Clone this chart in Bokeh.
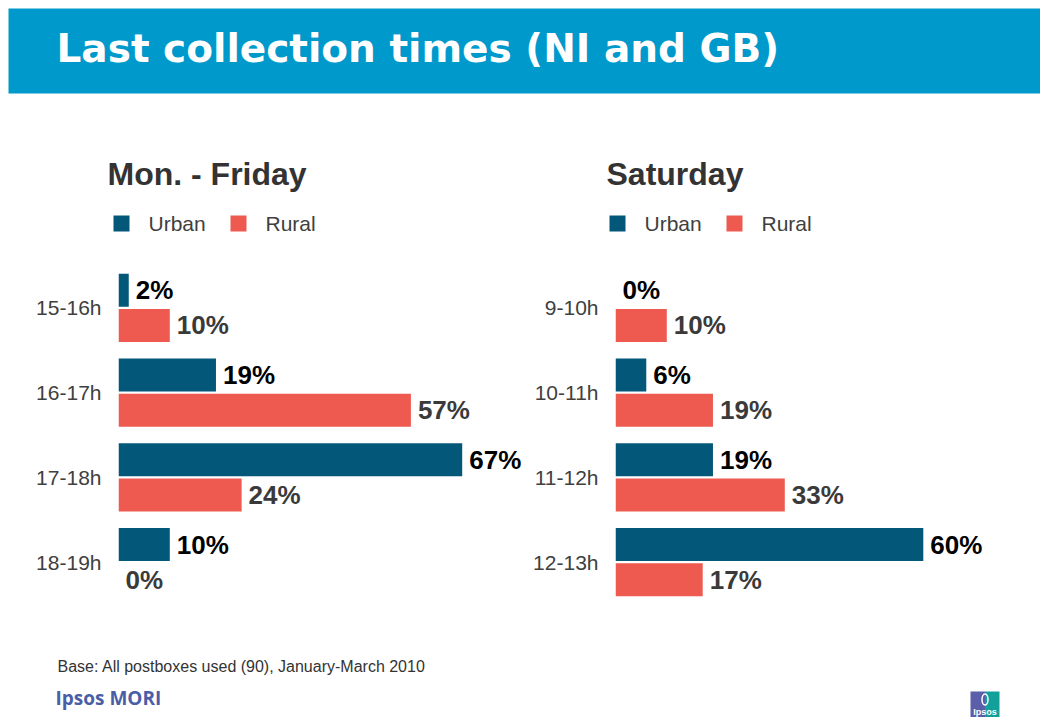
from bokeh.plotting import figure
from bokeh.layouts import column, row
from bokeh.models import ColumnDataSource, FactorRange, Range1d
from bokeh.transform import dodge
from bokeh.core.properties import value
from bokeh.embed import file_html
from bokeh.resources import INLINE

# ---------------- data ----------------
weekday_categories = ["15-16h", "16-17h", "17-18h", "18-19h"]
weekday_urban = [2, 19, 67, 10]
weekday_rural = [10, 57, 24, 0]

saturday_categories = ["9-10h", "10-11h", "11-12h", "12-13h"]
saturday_urban = [0, 6, 19, 60]
saturday_rural = [10, 19, 33, 17]

series_names = ["Urban", "Rural"]
series_colors = ["#03587A", "#EE5A4F"]
label_colors = ["#000000", "#3A3A3A"]

chart_titles = ["Mon. - Friday", "Saturday"]
main_title = "Last collection times (NI and GB)"
base_note = "Base: All postboxes used (90), January-March 2010"
brand = "Ipsos MORI"

# ---------------- layout constants (page pixels) ----------------
PX_PER_PCT = 5.13
TOTAL_W = 1040
TOP_Y0, TOP_Y1 = 0, 265
CHART_H = 339
FOOT_Y0, FOOT_Y1 = 604, 717
HEADER_BLUE = "#0099CC"
TEXT_DARK = "#333333"
AXIS_GREY = "#404040"
FONT = "Liberation Sans"


def blank_canvas(y0, y1):
    p = figure(width=TOTAL_W, height=y1 - y0,
               x_range=Range1d(0, TOTAL_W), y_range=Range1d(y1, y0),
               x_axis_location=None, y_axis_location=None,
               min_border=0, outline_line_color=None,
               output_backend="svg", toolbar_location=None)
    p.grid.visible = False
    return p


# ---------------- top: header, chart titles, legends ----------------
top = blank_canvas(TOP_Y0, TOP_Y1)
top.quad(left=[8], right=[TOTAL_W], top=[8], bottom=[93], color=HEADER_BLUE, line_color=None)
top.text(x=[56], y=[48], text=[main_title], text_font=value("DejaVu Sans"),
         text_font_style="bold", text_font_size="39px", text_color="white",
         text_baseline="middle", text_align="left")

chart_x0 = [107, 606]         # title starts
legend_sq_x0 = [113, 609]     # first legend square
for k in range(2):
    top.text(x=[chart_x0[k]], y=[173], text=[chart_titles[k]], text_font=value(FONT),
             text_font_style="bold", text_font_size="32px", text_color=TEXT_DARK,
             text_baseline="middle", text_align="left")
    for j, (name, col) in enumerate(zip(series_names, series_colors)):
        sx = legend_sq_x0[k] + j * 117
        top.quad(left=[sx], right=[sx + 16], top=[215], bottom=[231], color=col, line_color=None)
        top.text(x=[sx + 35], y=[223], text=[name], text_font=value(FONT),
                 text_font_size="21px", text_color=AXIS_GREY,
                 text_baseline="middle", text_align="left")


# ---------------- charts ----------------
def make_chart(cats, urban, rural, width, border_left):
    p = figure(width=width, height=CHART_H,
               y_range=FactorRange(factors=cats[::-1]),
               x_range=Range1d(0, (width - border_left) / PX_PER_PCT),
               x_axis_location=None, y_axis_location="left",
               min_border_left=border_left, min_border_right=0,
               min_border_top=0, min_border_bottom=0,
               outline_line_color=None,
               output_backend="svg", toolbar_location=None)
    p.grid.visible = False
    src = ColumnDataSource(dict(
        cat=cats, Urban=urban, Rural=rural,
        Urban_lbl=[f"{v}%" for v in urban],
        Rural_lbl=[f"{v}%" for v in rural],
    ))
    offsets = [0.207, -0.207]
    for name, col, lcol, off in zip(series_names, series_colors, label_colors, offsets):
        ypos = dodge("cat", off, range=p.y_range)
        p.hbar(y=ypos, left=0, right=name, height=0.39, source=src,
               fill_color=col, line_color=None)
        p.text(x=name, y=ypos, text=f"{name}_lbl", source=src, x_offset=7,
               text_font=value(FONT), text_font_style="bold", text_font_size="26px",
               text_color=lcol, text_baseline="middle", text_align="left")
    ax = p.yaxis[0]
    ax.axis_line_color = None
    ax.major_tick_line_color = None
    ax.minor_tick_line_color = None
    ax.major_tick_out = 0
    ax.major_tick_in = 0
    ax.major_label_standoff = 17
    ax.major_label_text_font = FONT
    ax.major_label_text_font_size = "21px"
    ax.major_label_text_color = AXIS_GREY
    return p


left = make_chart(weekday_categories, weekday_urban, weekday_rural, 528, 118)
right = make_chart(saturday_categories, saturday_urban, saturday_rural, 512, 87)

# ---------------- footer ----------------
foot = blank_canvas(FOOT_Y0, FOOT_Y1)
foot.text(x=[57], y=[666], text=[base_note], text_font=value(FONT), text_font_size="16px",
          text_color=TEXT_DARK, text_baseline="middle", text_align="left")
foot.text(x=[55], y=[697.5], text=[brand], text_font=value("Open Sans"), text_font_style="bold",
          text_font_size="19px", text_color="#4A5EA8", text_baseline="middle",
          text_align="left")
# small Ipsos logo
foot.quad(left=[970], right=[984.5], top=[691], bottom=[717], color="#5B5EA8", line_color=None)
foot.quad(left=[984.5], right=[999], top=[691], bottom=[717], color="#12A19A", line_color=None)
foot.ellipse(x=[984.5], y=[699], width=[6], height=[11], fill_color=None,
             line_color="white", line_width=1.5)
foot.text(x=[984.5], y=[711], text=["Ipsos"], text_font=value(FONT), text_font_style="bold",
          text_font_size="9px", text_color="white", text_baseline="middle",
          text_align="center")

layout = column(top, row(left, right, spacing=0), foot, spacing=0)

with open("out.html", "w") as f:
    f.write(file_html(layout, INLINE))
